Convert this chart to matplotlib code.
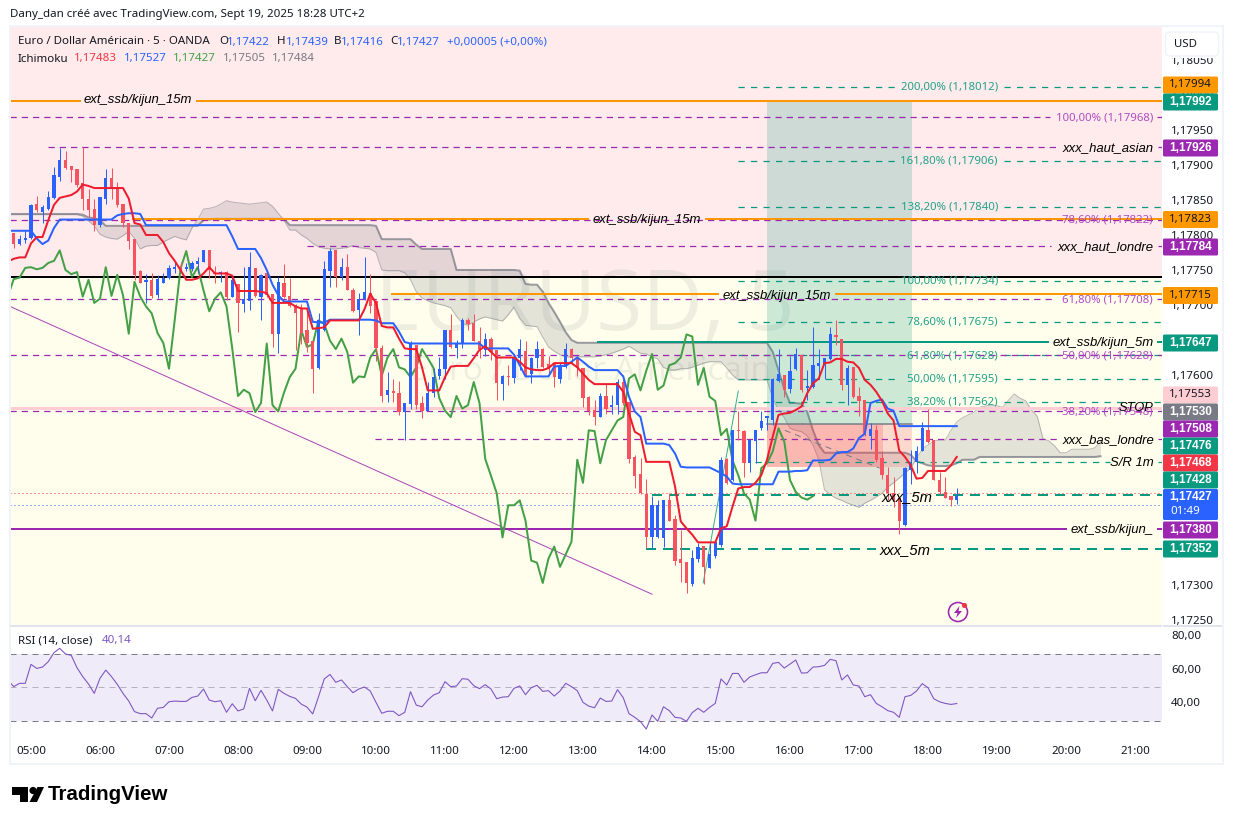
import numpy as np
import matplotlib
matplotlib.use("Agg")
import matplotlib.pyplot as plt
from matplotlib.patches import Rectangle, FancyBboxPatch, Circle, Polygon
from matplotlib.transforms import Affine2D, ScaledTranslation

# ---------- values, in 1e-5 above 1.17000 ----------
opens = [803,787,793,795,844,833,837,853,883,907, 899,894,874,851,837,814,852,882,868,844,
 817,794,748,733,736,714,732,738,752,752, 752,751,759,762,779,746,744,747,712,730,
 701,706,753,712,746,716,659,732,713,700, 694,665,648,610,664,749,779,740,754,722,
 693,708,717,705,638,571,577,575,547,559, 643,560,549,574,598,608,665,638,644,679,
 674,649,636,652,636,587,598,596,624,634, 601,624,637,616,616,595,611,637,624,610,
 568,550,540,570,555,557,590,561,483,458, 430,368,369,367,422,394,337,333,302,337,
 356,325,342,357,480,450,521,520,474,506, 524,539,536,591,600,580,609,629,582,583,
 613,616,623,657,652,586,611,570,565,513, 522,481,457,432,424,386,465,476,492,522,
 507,450,433,427,422]
highs = [803,800,807,844,856,843,863,897,924,920, 899,894,925,865,852,854,894,896,876,844,
 817,794,750,744,746,743,746,757,763,760, 760,763,769,779,779,756,748,748,740,730,
 754,775,753,744,748,716,740,759,739,702, 702,697,648,688,763,782,779,767,773,724,
 717,769,744,707,643,605,594,591,560,648, 643,570,590,610,626,664,687,650,682,681,
 687,669,660,654,636,600,614,626,651,648, 626,648,638,627,617,617,646,638,627,610,
 570,564,575,587,571,594,600,562,486,481, 452,427,421,422,431,400,379,333,350,360,
 356,360,362,483,481,521,548,521,507,521, 549,541,596,637,600,627,639,629,607,668,
 637,625,668,679,652,614,611,583,565,531, 529,491,468,455,424,469,493,498,533,551,
 507,462,454,427,439]
lows = [781,785,788,794,833,817,836,852,877,894, 875,869,836,825,806,812,844,851,840,811,
 780,736,731,703,710,710,732,737,746,745, 748,748,745,761,738,732,733,707,711,662,
 690,693,712,679,712,640,632,710,697,636, 645,633,574,608,663,725,726,735,721,690,
 657,707,689,620,562,562,561,543,507,552, 552,539,549,568,595,595,638,624,638,665,
 648,625,627,621,564,564,586,589,607,598, 588,610,610,601,583,588,610,617,598,555,
 543,528,540,545,544,544,557,475,438,430, 353,353,367,355,391,329,305,288,298,333,
 302,324,338,355,444,448,507,455,462,474, 521,521,529,590,569,574,607,576,564,581,
 595,594,621,643,578,557,567,542,513,495, 476,452,422,412,373,384,444,460,491,503,
 450,429,424,413,416]
closes = [787,794,794,843,835,840,854,886,907,895, 893,871,852,836,814,854,881,868,843,817,
 791,743,732,734,713,737,739,753,754,751, 753,760,763,778,750,744,747,712,736,703,
 709,754,713,743,714,659,733,712,698,688, 660,646,609,679,752,777,740,754,721,691,
 709,718,698,638,570,579,574,547,560,645, 557,548,575,597,609,664,640,644,678,673,
 649,637,652,633,589,598,597,625,637,599, 625,637,611,608,597,611,637,624,610,567,
 549,540,570,552,557,590,560,480,456,431, 368,414,414,421,392,335,332,303,338,355,
 326,344,362,479,446,521,520,474,507,521, 535,540,595,601,578,606,630,579,585,614,
 617,625,658,655,586,610,569,563,514,523, 478,457,431,422,392,467,474,491,524,505,
 450,433,425,422,427]
tenkan = [762,766,768,768,788,797,797,821,843,853, 855,857,862,872,870,867,867,867,867,867,
 867,852,817,815,800,800,800,790,774,763, 750,736,736,738,745,754,745,745,745,742,
 720,720,720,720,719,717,703,703,703,703, 698,695,695,666,667,668,678,678,678,678,
 678,678,694,716,703,670,668,668,652,638, 637,637,611,578,578,578,597,612,613,613,
 613,624,636,641,633,625,625,625,625,619, 611,608,607,607,610,617,617,617,617,611,
 602,593,587,587,587,587,587,576,545,519, 514,476,476,476,476,476,441,391,381,372,
 361,361,361,361,381,384,412,438,440,440, 446,457,479,512,543,545,546,550,555,574,
 588,595,617,618,623,623,619,618,610,593, 586,576,563,545,535,492,483,471,452,453,
 463,463,463,463,471,483]
kijun = [806,806,806,806,806,795,787,792,810,822, 822,822,822,822,822,822,822,822,822,828,
 830,831,831,830,814,814,814,814,814,814, 814,814,814,814,814,814,814,814,814,798,
 780,780,780,780,767,750,729,714,705,705, 705,705,705,676,675,675,679,679,679,679,
 679,679,679,679,678,674,674,674,662,647, 645,645,645,645,645,645,645,645,645,645,
 645,645,645,638,638,638,638,638,629,614, 598,598,598,598,598,612,613,613,619,625,
 619,612,607,607,607,607,607,598,569,548, 540,502,502,502,502,500,488,469,468,468,
 468,468,468,464,460,455,445,444,444,444, 444,444,444,444,462,462,462,463,463,464,
 478,478,478,479,488,490,490,495,510,516, 560,563,565,552,549,527,527,527,527,527,
 527,527,527,527,527,527]
span_a = [829,829,829,829,829,829,829,829,829,829, 829,829,829,827,820,813,801,797,795,794,
 799,805,795,780,784,785,785,790,794,798, 795,793,810,822,837,838,840,844,849,847,
 846,845,844,845,846,847,841,831,821,807, 807,800,795,788,783,781,780,780,781,782,
 785,782,781,780,775,750,749,749,749,746, 736,719,710,706,703,701,699,696,684,674,
 671,676,680,683,681,679,677,686,697,681, 671,670,669,654,640,634,629,626,626,626,
 626,626,626,627,629,631,634,637,641,636, 631,630,626,623,611,607,607,609,609,611,
 614,617,619,619,619,610,600,593,593,593, 593,593,593,567,550,539,524,521,519,513,
 500,479,436,429,424,421,417,414,411,417, 421,426,431,440,446,453,460,467,481,494,
 500,506,507,507,521,533,539,543,547,554, 556,557,556,554,564,573,567,563,550,541,
 509,506,499,489,489,494,494,494,494,496,505]
span_b = [830,830,830,830,830,830,830,830,830,830, 830,830,830,829,825,824,821,813,813,813,
 813,813,813,813,813,813,813,813,813,813, 813,813,813,813,821,822,823,823,823,823,
 823,823,823,823,823,823,823,823,823,814, 814,814,814,814,814,814,814,814,814,814,
 814,814,814,814,813,794,794,794,794,794, 794,786,780,780,780,780,780,780,750,750,
 750,750,750,750,750,750,750,750,750,749, 730,729,729,719,703,690,676,661,650,646,
 646,646,646,646,646,646,646,646,646,646, 646,646,646,646,646,646,646,646,646,646,
 646,646,646,646,646,646,646,646,646,646, 646,646,646,633,607,580,560,560,559,547,
 521,500,489,489,489,489,489,489,489,489, 489,489,489,489,489,489,489,486,477,474,
 471,470,470,470,471,474,479,479,479,483, 483,483,483,483,483,483,483,483,483,483,
 483,483,483,483,483,483,483,483,483,483,484]
rsi = [54.0,50.2,52.2,52.2,63.5,61.1,61.9,65.1,70.5,73.1, 69.7,68.9,61.5,56.2,51.8,46.2,55.2,60.1,56.2,51.6,
 46.2,41.6,35.3,34.1,34.1,31.5,37.3,37.8,41.2,41.6, 41.4,41.4,43.8,44.6,48.8,42.2,41.2,41.8,34.9,40.0,
 35.7,36.9,49.2,41.8,48.0,42.2,35.7,48.6,46.2,44.4, 43.2,39.8,38.0,33.9,44.2,54.8,57.5,52.8,54.2,50.2,
 46.6,48.8,50.0,47.6,40.8,34.3,35.5,35.5,32.9,34.9, 47.2,39.2,38.2,42.2,45.2,46.6,53.2,50.2,50.6,55.0,
 54.6,50.8,49.0,51.4,48.8,43.0,44.0,44.2,49.2,50.6, 45.4,49.6,51.0,47.4,47.8,44.6,47.6,52.2,50.2,47.8,
 40.8,38.6,37.6,43.4,41.4,41.6,48.4,43.6,34.1,31.9, 29.3,24.9,33.3,29.5,38.2,35.9,31.9,31.5,29.5,34.7,
 37.3,34.9,37.8,40.2,54.8,51.2,58.1,58.1,52.8,56.0, 57.3,58.5,58.5,64.1,64.7,61.3,63.7,66.1,58.3,58.5,
 61.9,62.1,62.9,66.5,65.7,54.2,57.2,51.2,50.6,44.2, 45.4,40.2,38.2,35.9,34.9,31.9,44.2,45.0,47.6,52.0,
 49.6,43.0,41.2,40.2,39.6,40.14]

hours = ["05:00","06:00","07:00","08:00","09:00","10:00","11:00","12:00","13:00","14:00",
         "15:00","16:00","17:00","18:00","19:00","20:00","21:00"]

# levels
zone_split = 1.17740
fib_up = [("200,00%",1.18012),("161,80%",1.17906),("138,20%",1.17840),("100,00%",1.17734),
          ("78,60%",1.17675),("61,80%",1.17628),("50,00%",1.17595),("38,20%",1.17562)]
fib_down = [("100,00%",1.17968),("78,60%",1.17822),("61,80%",1.17708),("50,00%",1.17628),("38,20%",1.17548)]
orange_levels = [1.17992,1.17823,1.17715]
haut_asian, haut_londre, bas_londre = 1.17926, 1.17784, 1.17508
kijun_5m, pink_level, kijun_level = 1.17647, 1.17553, 1.17380
sr_1m, five_a, five_b = 1.17476, 1.17428, 1.17352
dotted_red, dotted_blue = 1.17431, 1.17414
entry, target, stop = 1.17530, 1.17992, 1.17468
trend_x, trend_y = [-3.65,108.0], [1.17698,1.17287]
fib_x, fib_y = [116.9,123.0], [1.17303,1.17577]
grey_x, grey_y = [131.1,147.6], [1.17521,1.17467]

tags = [("1,17994",85,"#FF9800","#131722"),("1,17992",102,"#089981","w"),("1,17926",148,"#9C27B0","w"),
        ("1,17823",219.5,"#FF9800","#131722"),("1,17784",247,"#9C27B0","w"),("1,17715",295.5,"#FF9800","#131722"),
        ("1,17647",343,"#089981","w"),("1,17553",395,"#FFCDD2","#131722"),("1,17530",412,"#787B86","w"),
        ("1,17508",429,"#9C27B0","w"),("1,17476",446,"#089981","w"),("1,17468",463,"#F23645","w"),
        ("1,17428",480,"#089981","w"),("1,17380",530,"#9C27B0","w"),("1,17352",549,"#089981","w")]

# ---------- set-up ----------
FONT = "Noto Sans"
ITALIC = "Liberation Sans"
W, H = 1233, 824
plt.rcParams["font.family"] = [FONT, "DejaVu Sans"]
fig = plt.figure(figsize=(W/100, H/100), dpi=100, facecolor="white")
T = Affine2D().scale(1, -1).translate(0, H)
PT = 0.72

def axes_px(l, t, r, b):
    return fig.add_axes([l/W, 1-b/H, (r-l)/W, (b-t)/H])

def bx(px):
    return (px-31.0)/5.75

BLUE, RED, TEAL, PURPLE, ORANGE = "#2962FF", "#F7525F", "#089981", "#9C27B0", "#FF9800"
TXT = "#131722"

to_price = lambda v: 1.17 + np.asarray(v, float)/1e5

ax = axes_px(10, 27, 1162, 625)
ax.set_xlim(bx(10), bx(1162))
ax.set_ylim(to_price(243), to_price(1097))
for s in ax.spines.values():
    s.set_visible(False)
ax.yaxis.tick_right()
yt = np.arange(1.1725, 1.18051, 0.0005)
ax.set_yticks(yt)
ax.set_yticklabels([f"{v:.5f}".replace(".", ",") for v in yt], fontsize=8.3, color=TXT)
ax.tick_params(axis="y", length=0, pad=6.5)
ax.set_xticks([])

ax.axhspan(zone_split, to_price(1097), color="#FFEBEB", lw=0, zorder=0)
ax.axhspan(to_price(243), zone_split, color="#FFFEEC", lw=0, zorder=0)

# watermark
wm = (0.47, 0.53, 0.53, 0.13)
ax.text(585, 330, "EURUSD, 5", transform=T, ha="center", va="baseline", fontsize=60.5, color=wm, zorder=0.5, family="Open Sans")
ax.text(590, 380, "Euro / Dollar Américain", transform=T, ha="center", va="baseline", fontsize=24, color=wm, zorder=0.5, family="Open Sans")

bars = np.arange(-3, 162)
line_bars = np.arange(-4, 162)
cloud_bars = np.arange(-4, 187)
o, h, l, c = map(to_price, (opens, highs, lows, closes))
up = c >= o

# cloud
a_, b_ = to_price(span_a), to_price(span_b)
ax.fill_between(cloud_bars, a_, b_, color="#787B86", alpha=0.2, lw=0, zorder=1)
ax.plot(cloud_bars, a_, color="#787B86", lw=1*PT, alpha=0.5, zorder=1.2)
ax.plot(cloud_bars, b_, color="#787B86", lw=2*PT, alpha=0.75, zorder=1.2)

# position tool
ax.fill_between([bx(767), bx(912)], entry, target, color=TEAL, alpha=0.2, lw=0, zorder=1.5)
ax.fill_between([bx(767), bx(912)], stop, entry, color="#F23645", alpha=0.18, lw=0, zorder=1.5)
ax.fill_between([bx(767), bx(883)], stop, entry, color="#F23645", alpha=0.2, lw=0, zorder=1.5)
ax.plot([bx(767), bx(912)], [entry, entry], color="#787B86", lw=1.5*PT, zorder=1.6)

def seg(level, start, gap, **kw):
    xs = [bx(start)] if start is not None else [bx(10)]
    if gap:
        ax.plot([xs[0], bx(gap[0])], [level, level], **kw)
        ax.plot([bx(gap[1]), bx(1162)], [level, level], **kw)
    else:
        ax.plot([xs[0], bx(1162)], [level, level], **kw)

teal_thin = dict(color=TEAL, lw=1.25*PT, linestyle=(0, (5, 5)), zorder=2)
purple_d = dict(color=PURPLE, lw=1.25*PT, linestyle=(0, (5, 4)), zorder=2)
teal_bold = dict(color=TEAL, lw=2*PT, linestyle=(0, (5, 3.5)), zorder=2)

for _, v in fib_up:
    seg(v, 738, (898, 1004), **teal_thin)
gap_down = {1.17968: (1050, 1157), 1.17822: None, 1.17708: (1056, 1157), 1.17628: None, 1.17548: None}
for _, v in fib_down:
    seg(v, 10, gap_down[v], **purple_d)
seg(haut_asian, 48, (1057, 1158), **purple_d)
seg(haut_londre, 307, (1051, 1158), **purple_d)
seg(bas_londre, 375, (1057, 1158), **purple_d)
seg(sr_1m, 755, (1110, 1158), **teal_thin)
seg(five_a, 652, (878, 936), **teal_bold)
seg(five_b, 646, (876, 934), **teal_bold)
seg(orange_levels[0], 10, (80, 197), color=ORANGE, lw=2*PT, zorder=2)
seg(orange_levels[1], 133, (588, 706), color=ORANGE, lw=2*PT, zorder=2)
seg(orange_levels[2], 392, (718, 836), color=ORANGE, lw=2*PT, zorder=2)
seg(kijun_5m, 598, (1048, 1158), color=TEAL, lw=2*PT, zorder=2)
seg(kijun_level, 10, (1066, 1158), color=PURPLE, lw=2*PT, zorder=2)
seg(zone_split, 10, None, color="black", lw=2*PT, zorder=2)
seg(pink_level, 10, None, color="#FFCDD2", lw=3*PT, zorder=2)
seg(dotted_red, 10, None, color="#F23645", lw=1*PT, linestyle=(0, (1, 3)), zorder=2)
seg(dotted_blue, 10, None, color=BLUE, lw=1*PT, linestyle=(0, (1, 3)), zorder=2)

ax.plot(trend_x, trend_y, color=PURPLE, lw=1*PT, alpha=0.85, zorder=2)
ax.plot(fib_x, fib_y, color=TEAL, lw=1*PT, alpha=0.8, zorder=2)
ax.plot(grey_x, grey_y, color="#787B86", lw=1*PT, linestyle=(0, (6, 5)), zorder=2)

# indicators and candles
ax.plot(bars[24:]-25, c[24:], color="#43A047", lw=2*PT, zorder=3)
ax.vlines(bars, l, h, colors=[BLUE if u else RED for u in up], lw=1*PT, zorder=3.5)
ax.bar(bars, np.maximum(np.abs(c-o), 2e-5), bottom=np.minimum(o, c), width=0.56,
       color=[BLUE if u else RED for u in up], lw=0, zorder=3.6)
ax.plot(line_bars, to_price(kijun), color=BLUE, lw=2*PT, zorder=4)
ax.plot(line_bars, to_price(tenkan), color="#EE1C2E", lw=2*PT, zorder=4.1)

# line labels
def lab(x, y, s, color="black", ha="right", fs=9.45, italic=True):
    fam = ITALIC if italic else FONT
    ax.text(x, y, s, transform=T, ha=ha, va="center", fontsize=fs, color=color, zorder=6,
            family=fam, style="italic" if italic else "normal", clip_on=False)

for (name, v), y in zip(fib_up, [87, 161, 207, 281, 322.5, 356, 379, 401.5]):
    ax.text(998, y, f"{name} ({v:.5f})".replace("1.", "1,"), transform=T, ha="right", va="center",
            fontsize=8.2, color="#22A28A", zorder=6)
for (name, v), y in zip(fib_down, [118.5, 220, 300, 356, 412]):
    ax.text(1153, y, f"{name} ({v:.5f})".replace("1.", "1,"), transform=T, ha="right", va="center",
            fontsize=8.2, color="#B04CC4", zorder=6)
lab(84, 100, "ext_ssb/kijun_15m", ha="left")
lab(593, 220, "ext_ssb/kijun_15m", ha="left")
lab(723, 296, "ext_ssb/kijun_15m", ha="left")
lab(1154, 148, "xxx_haut_asian")
lab(1154, 247, "xxx_haut_londre")
lab(1154, 343, "ext_ssb/kijun_5m")
lab(1154, 408, "STOP", fs=9.3)
lab(1154, 440, "xxx_bas_londre")
lab(1154, 463, "S/R 1m")
lab(1154, 530, "ext_ssb/kijun_")
lab(932, 497, "xxx_5m", fs=10.6)
lab(930, 550, "xxx_5m", fs=10.6)

# RSI pane
ar = axes_px(10, 626, 1162, 735)
ar.set_xlim(bx(10), bx(1162))
ar.set_ylim(50-48/1.675, 50+61/1.675)
for s in ar.spines.values():
    s.set_visible(False)
ar.axhspan(30, 70, color="#7E57C2", alpha=0.115, lw=0)
ar.axhline(70, color="#787B86", lw=1*PT, linestyle=(0, (6, 5)))
ar.axhline(30, color="#787B86", lw=1*PT, linestyle=(0, (6, 5)))
ar.axhline(50, color="#787B86", lw=1*PT, alpha=0.5, linestyle=(0, (6, 5)))
ar.plot(line_bars, rsi, color="#7E57C2", lw=1.1*PT)
ar.yaxis.tick_right()
ar.set_yticks([40, 60, 80])
ar.set_yticklabels(["40,00", "60,00", "80,00"], fontsize=8.3, color=TXT)
ar.tick_params(axis="y", length=0, pad=6.5)
ar.set_xticks(np.arange(len(hours))*12)
ar.set_xticklabels(hours, fontsize=8.3, color=TXT)
ar.tick_params(axis="x", length=0, pad=7.6)
for lbl in ar.get_yticklabels():
    lbl.set_transform(lbl.get_transform() + ScaledTranslation(0, 1.5/100, fig.dpi_scale_trans))

# overlay furniture in pixel coordinates
def rect(x0, y0, x1, y1, **kw):
    fig.add_artist(Rectangle((x0, y0), x1-x0, y1-y0, transform=T, **kw))

def txt(x, y, s, color=TXT, ha="left", va="center", fs=8.3, **kw):
    fig.text(x, y, s, transform=T, color=color, ha=ha, va=va, fontsize=fs, zorder=8, **kw)

frame = "#F0F3FA"
rect(10, 26, 1222.5, 764, fill=False, ec=frame, lw=2*PT, zorder=4)
rect(10, 625, 1162, 626.5, fc="#E0E3EB", lw=0, zorder=4)
rect(1163, 625, 1222, 626.5, fc="#E0E3EB", lw=0, zorder=4)

rect(1163, 28, 1222, 58, fc="white", lw=0, zorder=5)
fig.add_artist(FancyBboxPatch((1165.5, 32), 53, 24, boxstyle="round,pad=0,rounding_size=4", transform=T,
                              fc="white", ec="#F0F3FA", lw=1.5*PT, zorder=5.5))
txt(1174, 44.5, "USD", fs=8.2)

for s, y, col, tc in tags:
    fig.add_artist(FancyBboxPatch((1163, y-8.5), 55, 17, boxstyle="round,pad=0,rounding_size=1.5", transform=T,
                                  fc=col, ec="none", zorder=6))
    if tc == "w":
        txt(1190.5, y-0.3, s, color=tc, ha="center", fs=8.5, fontweight="bold", family="Liberation Sans")
    else:
        txt(1190.5, y-0.3, s, color=tc, ha="center", fs=8.3)
fig.add_artist(FancyBboxPatch((1163, 489), 55, 31, boxstyle="round,pad=0,rounding_size=1.5", transform=T,
                              fc=BLUE, ec="none", zorder=6))
txt(1190.5, 497, "1,17427", color="w", ha="center", fs=8.5, fontweight="bold", family="Liberation Sans")
txt(1170, 511, "01:49", color="w", ha="left")

# header
txt(10, 15, "Dany_dan créé avec TradingView.com, Sept 19, 2025 18:28 UTC+2", fs=8.3)
H1, HC = 42, "#2962FF"
txt(18, H1, "Euro / Dollar Américain · 5 · OANDA")
for x, s, col in [(219, "O", TXT), (226.5, "1,17422", HC), (277, "H", TXT), (286, "1,17439", HC),
                  (334, "B", TXT), (341, "1,17416", HC), (390, "C", TXT), (397, "1,17427", HC),
                  (447, "+0,00005 (+0,00%)", HC)]:
    txt(x, H1, s, color=col)
H2 = 59
txt(18, H2, "Ichimoku")
for x, s, col in [(74, "1,17483", "#F23645"), (124, "1,17527", HC), (173, "1,17427", "#43A047"),
                  (223, "1,17505", "#787B86"), (272, "1,17484", "#787B86")]:
    txt(x, H2, s, color=col)
txt(18, 641, "RSI (14, close)")
txt(102, 641, "40,14", color="#7E57C2")

# lightning icon
fig.add_artist(Circle((958, 612), 9.5, transform=T, fc="none", ec=PURPLE, lw=1.6*PT, zorder=7))
fig.add_artist(Polygon([(959.5, 606), (954, 613), (957.5, 613), (956, 618), (962, 611), (958.5, 611)],
                       transform=T, fc=PURPLE, ec="none", zorder=7))
fig.add_artist(Circle((964.5, 605.5), 2.6, transform=T, fc="#F23645", ec="none", zorder=7.5))

# TradingView logo
fig.add_artist(Polygon([(12, 787), (28, 787), (28, 802), (20, 802), (20, 795), (12, 795)], transform=T, fc="black", ec="none", zorder=7))
fig.add_artist(Circle((33, 790.5), 3.6, transform=T, fc="black", ec="none", zorder=7))
fig.add_artist(Polygon([(37.5, 787), (44, 787), (37, 802), (29.5, 802)], transform=T, fc="black", ec="none", zorder=7))
txt(48, 795, "TradingView", color="black", fs=14.8, fontweight="bold", family="Liberation Sans")

fig.savefig("out.png", dpi=100, facecolor="white")
